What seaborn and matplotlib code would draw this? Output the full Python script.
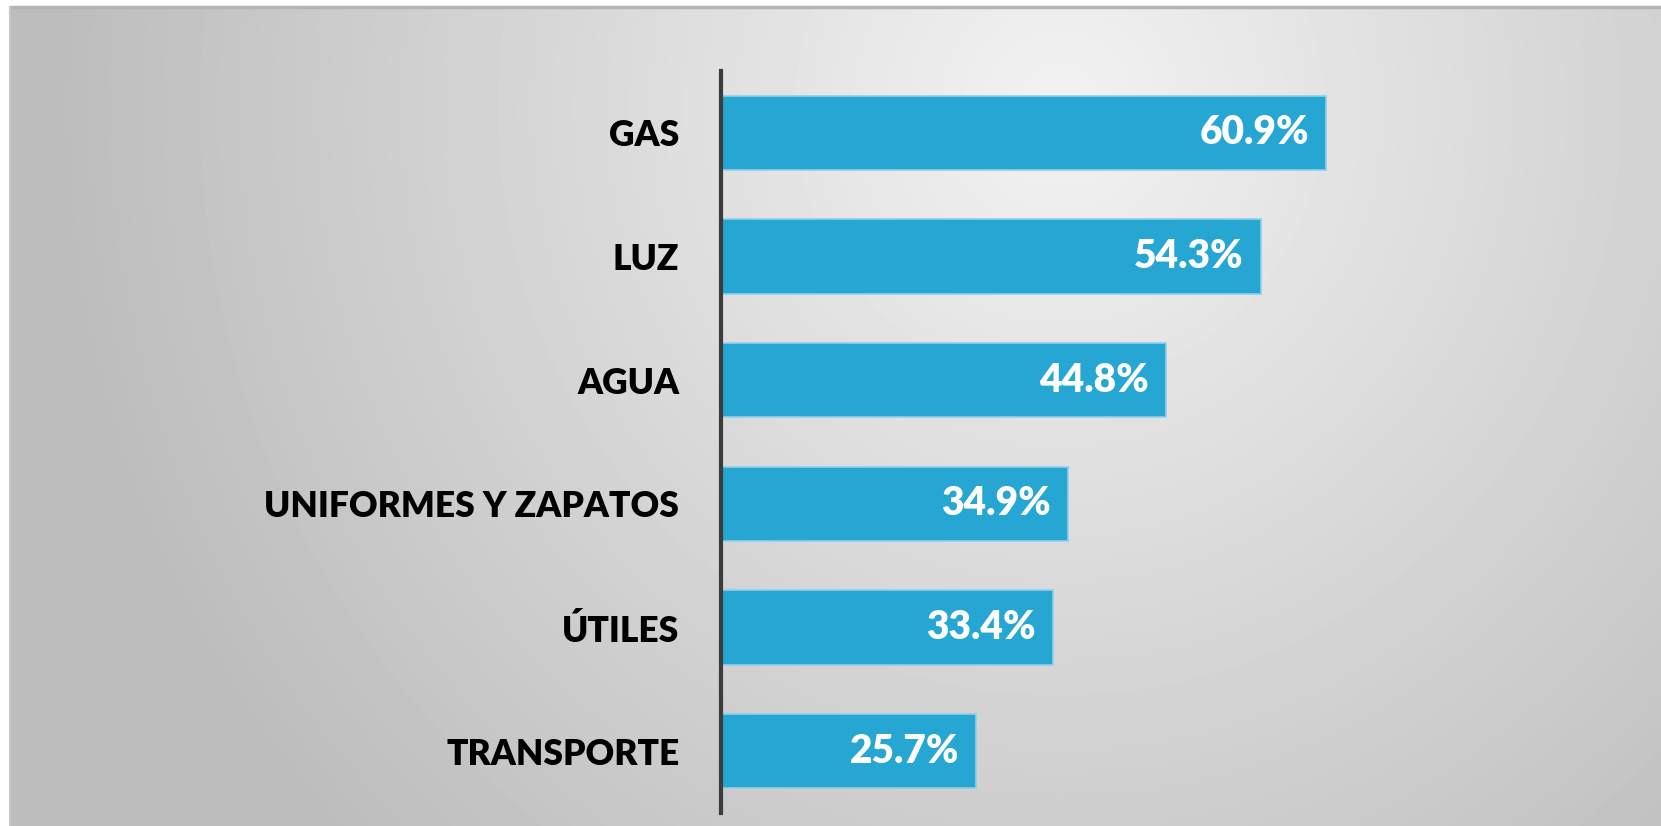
import numpy as np
import pandas as pd
import seaborn as sns
import matplotlib.pyplot as plt

# data
categorias = ['GAS', 'LUZ', 'AGUA', 'UNIFORMES Y ZAPATOS', 'ÚTILES', 'TRANSPORTE']
porcentajes = [60.9, 54.3, 44.8, 34.9, 33.4, 25.7]

df = pd.DataFrame({'categoria': categorias, 'pct': porcentajes})

sns.set_theme(style='white')
plt.rcParams['font.family'] = ['Lato', 'DejaVu Sans']

W, H = 1661, 826
fig = plt.figure(figsize=(W / 100, H / 100), dpi=100)
fig.patch.set_facecolor('white')

# gradient background panel (light centre, grey edges)
bg = fig.add_axes([10 / W, 0, 1 - 10 / W, 1 - 7 / H])
yy, xx = np.mgrid[0:200, 0:400]
xx = xx / 399 * (W - 10)
yy = yy / 199 * (H - 7)
d = np.sqrt(((xx - 1050) / 1050) ** 2 + ((yy - 100) / 1100) ** 2)
shade = np.clip(0.95 - 0.22 * d, 0.74, 0.95)
bg.imshow(shade, cmap='gray', vmin=0, vmax=1, aspect='auto',
          extent=[0, 1, 0, 1], origin='upper', interpolation='bilinear')
bg.set_xlim(0, 1)
bg.set_ylim(0, 1)
bg.axis('off')
bg.plot([0, 1], [1, 1], color='#b4b4b4', lw=2.5, transform=bg.transAxes, clip_on=False)
bg.plot([0, 0], [0, 1], color='#c8c8c8', lw=1.5, transform=bg.transAxes, clip_on=False)

ax = fig.add_axes([721 / W, 13 / H, 1 - 721 / W, (813 - 71) / H])
ax.patch.set_alpha(0)
sns.barplot(data=df, x='pct', y='categoria', orient='h', color='#26A6D3',
            saturation=1, width=0.6, edgecolor='#8fd0ea', linewidth=1.2, ax=ax)

ax.set_xlim(0, (W - 721) / 9.94)
ax.set_ylim(5.5, -0.5)
ax.set_xlabel('')
ax.set_ylabel('')
ax.set_xticks([])
for s in ['top', 'right', 'bottom']:
    ax.spines[s].set_visible(False)
ax.spines['left'].set_color('#3c3c3c')
ax.spines['left'].set_linewidth(3)
ax.tick_params(axis='y', length=0, pad=30)
for lbl in ax.get_yticklabels():
    lbl.set_fontsize(25.5)
    lbl.set_fontweight('heavy')
    lbl.set_color('black')

for i, v in enumerate(porcentajes):
    ax.annotate(f'{v}%', xy=(v, i), xytext=(-17, 0), textcoords='offset pixels',
                ha='right', va='center', fontsize=28, fontweight='heavy', color='white')

fig.savefig('out.png', dpi=100)
